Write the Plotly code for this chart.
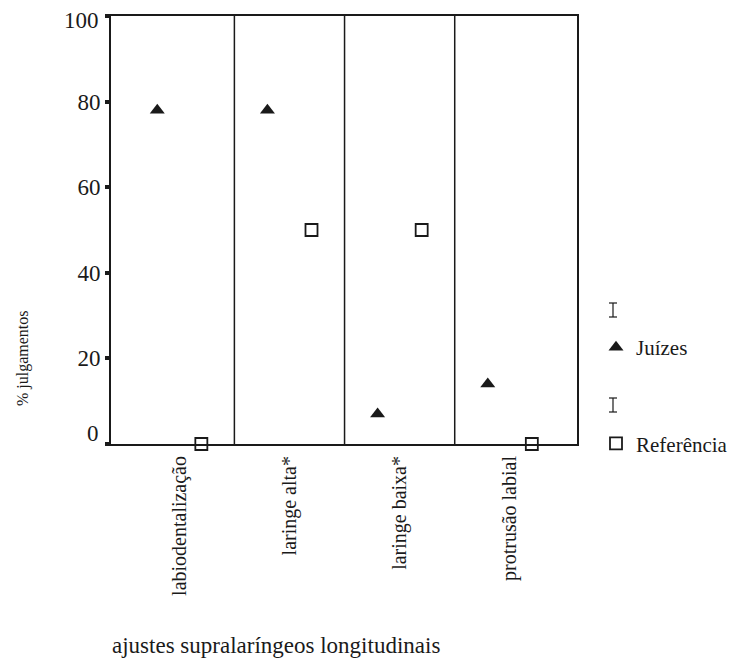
import plotly.graph_objects as go

categories = ["labiodentalização", "laringe alta*", "laringe baixa*", "protrusão labial"]
juizes = [78, 78, 7, 14]
referencia = [0, 50, 50, 0]
y_ticks = [0, 20, 40, 60, 80, 100]
y_ticktext = ["", "20", "40", "60", "80", ""]

FONT = "Times New Roman, Liberation Serif, DejaVu Serif, serif"
INK = "#1a1a1a"

# page is shown with an 8px body margin; figure coords = screen coords - 8
OFF = 8
W, H = 742 - OFF, 662 - OFF
L, T = 111 - OFF, 16 - OFF
PW, PH = 466, 428
R, B = W - L - PW, H - T - PH


def px(xs):
    return (xs - OFF - L) / PW


def py(ys):
    return 1 - (ys - OFF - T) / PH


fig = go.Figure()
fig.add_trace(go.Scatter(
    x=categories, y=juizes, mode="markers", name="Juízes",
    marker=dict(symbol="triangle-up", size=13, color=INK),
    cliponaxis=False, legendgroup="j",
))
fig.add_trace(go.Scatter(
    x=categories, y=referencia, mode="markers", name="Referência",
    marker=dict(symbol="square-open", size=12, color=INK, line=dict(width=1.8, color=INK)),
    cliponaxis=False, legendgroup="r",
))

# category dividers
for i in range(1, len(categories)):
    fig.add_shape(type="line", xref="x", yref="paper", x0=i - 0.5, x1=i - 0.5, y0=0, y1=1,
                  line=dict(color=INK, width=1.5))

# I-beam glyphs above each legend entry
for yc in (310, 405):
    y0, y1 = py(yc - 7), py(yc + 7)
    xm = px(613)
    dx = 4 / PW
    fig.add_shape(type="line", xref="paper", yref="paper", x0=xm, x1=xm, y0=y0, y1=y1,
                  line=dict(color=INK, width=1.2))
    for yy in (y0, y1):
        fig.add_shape(type="line", xref="paper", yref="paper", x0=xm - dx, x1=xm + dx, y0=yy, y1=yy,
                      line=dict(color=INK, width=1.2))

# end tick labels: the reference draws "0" a little above its tick; "100" kept inside the page
fig.add_annotation(text="0", xref="paper", yref="y", x=px(101), y=y_ticks[0], xanchor="right",
                   yanchor="middle", yshift=11, showarrow=False,
                   font=dict(family=FONT, size=23, color=INK))
fig.add_annotation(text="100", xref="paper", yref="y", x=px(101), y=y_ticks[-1], xanchor="right",
                   yanchor="middle", yshift=-4, showarrow=False,
                   font=dict(family=FONT, size=23, color=INK))

fig.add_annotation(text="% julgamentos", xref="paper", yref="paper",
                   x=px(23), y=py(358), xanchor="center", yanchor="middle", textangle=-90,
                   showarrow=False, font=dict(family=FONT, size=16, color=INK))
fig.add_annotation(text="ajustes supralaríngeos longitudinais", xref="paper", yref="paper",
                   x=px(110), y=py(645), xanchor="left", yanchor="middle",
                   showarrow=False, font=dict(family=FONT, size=23, color=INK))

fig.update_layout(
    width=W, height=H,
    margin=dict(l=L, r=R, t=T, b=B, autoexpand=False),
    paper_bgcolor="white", plot_bgcolor="white",
    font=dict(family=FONT, color=INK, size=20),
    scattermode="group", scattergap=0.2,
    showlegend=True,
    legend=dict(x=px(596), y=py(327), xanchor="left", yanchor="top",
                font=dict(family=FONT, size=21, color=INK), tracegroupgap=66,
                bgcolor="rgba(0,0,0,0)"),
    xaxis=dict(
        type="category", range=[-0.62, 3.61], showgrid=False, zeroline=False,
        showline=True, linecolor=INK, linewidth=2, mirror=True,
        ticks="", tickangle=-90, tickfont=dict(family=FONT, size=20, color=INK),
        ticklabelstandoff=2,
    ),
    yaxis=dict(
        range=[0, 100], tickvals=y_ticks, ticktext=y_ticktext, showgrid=False, zeroline=False,
        showline=True, linecolor=INK, linewidth=2, mirror=True,
        ticks="outside", ticklen=4, tickwidth=4, tickcolor=INK,
        tickfont=dict(family=FONT, size=23, color=INK),
    ),
)

fig.write_html("out.html")
